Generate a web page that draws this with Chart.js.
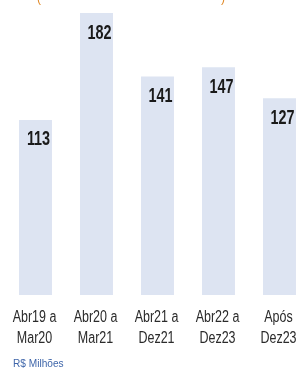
<!DOCTYPE html>
<html>
<head>
<meta charset="utf-8">
<script src="https://cdn.jsdelivr.net/npm/chart.js@4"></script>
<style>
  html, body { margin: 0; padding: 0; background: #fff; overflow: hidden; }
  #wrap { width: 312px; height: 368px; }
</style>
</head>
<body>
<div id="wrap"><canvas id="myChart" width="312" height="368"></canvas></div>
<script>
const labels = [['Abr19 a', 'Mar20'], ['Abr20 a', 'Mar21'], ['Abr21 a', 'Dez21'], ['Abr22 a', 'Dez23'], ['Após', 'Dez23']]
const values = [113, 182, 141, 147, 127]
const unitText = 'R$ Milhões'

const sans = "'Liberation Sans', Arial, sans-serif"

// squeezed text, the source uses a narrow face
function narrowText(c, text, x, y, sx) {
    c.save()
    c.translate(x, y)
    c.scale(sx, 1)
    c.fillText(text, 0, 0)
    c.restore()
}

// numbers inside the bars, category labels, the unit note and the cut-off title brackets
const extras = {
    id: 'extras',
    afterDatasetsDraw(chart) {
        const c = chart.ctx
        const meta = chart.getDatasetMeta(0)
        const xs = chart.scales.x
        c.save()
        c.font = 'bold 20px ' + sans
        c.fillStyle = '#1a1a1a'
        c.textAlign = 'center'
        c.textBaseline = 'middle'
        meta.data.forEach((bar, i) => {
            narrowText(c, String(values[i]), bar.x + 3, bar.y + 20, 0.72)
        })

        c.font = '16px ' + sans
        c.fillStyle = '#2b2b2b'
        c.textBaseline = 'alphabetic'
        labels.forEach((lab, i) => {
            const x = xs.getPixelForTick(i) - 1
            narrowText(c, lab[0], x, 322, 0.78)
            narrowText(c, lab[1], x, 343, 0.78)
        })

        c.font = '11px ' + sans
        c.fillStyle = '#3f66aa'
        c.textAlign = 'left'
        narrowText(c, unitText, 13, 367, 0.92)

        c.font = '12px ' + sans
        c.fillStyle = '#e08a2a'
        c.fillText('(', 37, 2)
        c.fillText(')', 221, 2)
        c.restore()
    }
}

const ctx = document.getElementById('myChart').getContext('2d')
const myChart = new Chart(ctx, {
    type: 'bar',
    data: {
        labels: labels,
        datasets: [{
            data: values,
            backgroundColor: '#dde4f2',
            borderWidth: 0,
            barPercentage: 0.54,
            categoryPercentage: 1
        }]
    },
    options: {
        responsive: false,
        animation: false,
        layout: { padding: { left: 5, right: 2, top: 0, bottom: 0 } },
        plugins: {
            legend: { display: false },
            tooltip: { enabled: false }
        },
        scales: {
            x: {
                grid: { display: false },
                border: { display: false },
                ticks: { display: false },
                afterFit: (scale) => { scale.height = 73 }
            },
            y: {
                display: false,
                min: 0,
                max: 190.4
            }
        }
    },
    plugins: [extras]
})
</script>
</body>
</html>
